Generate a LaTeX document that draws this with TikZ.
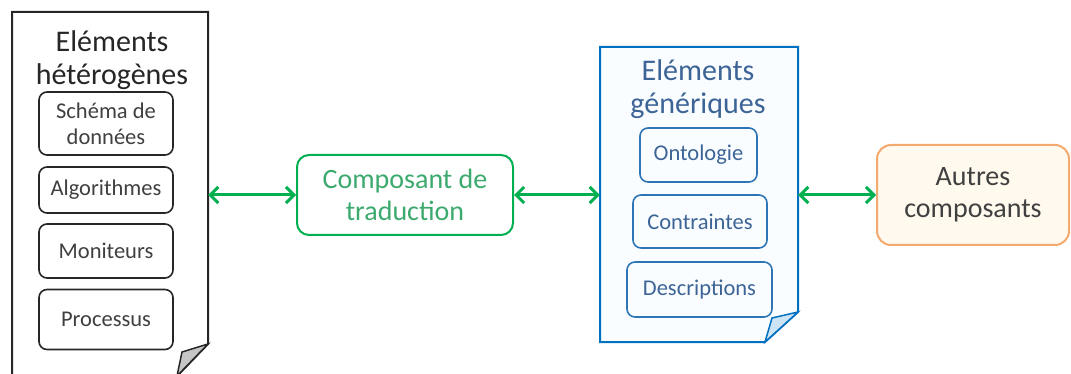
\documentclass[tikz,border=0pt]{standalone}
\usepackage{fontspec}
\setmainfont{Carlito}
\usetikzlibrary{arrows.meta}

\definecolor{docgray}{RGB}{38,38,38}
\definecolor{txtgray}{RGB}{64,64,64}
\definecolor{docblue}{RGB}{0,112,192}
\definecolor{boxblue}{RGB}{46,117,182}
\definecolor{txtblue}{RGB}{60,100,150}
\definecolor{docfill}{RGB}{250,253,255}
\definecolor{flapblue}{RGB}{205,228,246}
\definecolor{trgreen}{RGB}{0,176,80}
\definecolor{txtgreen}{RGB}{60,170,110}
\definecolor{orborder}{RGB}{244,170,110}
\definecolor{orfill}{RGB}{255,249,238}

\tikzset{
  item/.style={draw, rounded corners=8pt, line width=1.6pt, align=center,
    font=\fontsize{22.5}{26}\selectfont, inner sep=0pt},
  bigtext/.style={align=center, font=\fontsize{30}{33}\selectfont},
  link/.style={{Straight Barb[length=8pt,width=16pt]}-{Straight Barb[length=8pt,width=16pt]},
    trgreen, line width=3pt}
}

\begin{document}
\begin{tikzpicture}[x=1pt, y=-1pt]
  \useasboundingbox (0,0) rectangle (1071,374);
  % heterogeneous elements
  \draw[docgray, line width=2pt, fill=white] (12,12) -- (208,12) -- (208,344)
    -- (177,376) -- (12,376) -- cycle;
  \draw[docgray, line width=1.5pt, fill=gray!45] (208,344) -- (182,352) -- (177,376) -- cycle;
  \node[minimum width=196pt, minimum height=362pt, inner sep=0pt] (het) at (110,193) {};
  \node[bigtext, text=black!85] (hettitle) at (112,60) {Eléments\\hétérogènes};
  \node[item, docgray, text=txtgray, minimum width=134pt, minimum height=63pt] (schema) at (106,123.5) {Schéma de\\données};
  \node[item, docgray, text=txtgray, minimum width=134pt, minimum height=46pt] (algo) at (106,190) {Algorithmes};
  \node[item, docgray, text=txtgray, minimum width=134pt, minimum height=54pt] (moni) at (106,251) {Moniteurs};
  \node[item, docgray, text=txtgray, minimum width=134pt, minimum height=60pt] (proc) at (106,319.5) {Processus};
  % translation component
  \node[draw=trgreen, line width=2pt, rounded corners=12pt, text=txtgreen, bigtext,
    font=\fontsize{28}{32}\selectfont, minimum width=216pt, minimum height=80pt] (trad) at (405,195) {Composant de\\traduction};
  % generic elements
  \draw[docblue, line width=2pt, fill=docfill] (600,47) -- (798,47) -- (798,312)
    -- (765,342) -- (600,342) -- cycle;
  \draw[docblue, line width=1.5pt, fill=flapblue] (798,312) -- (772,318) -- (765,342) -- cycle;
  \node[minimum width=198pt, minimum height=295pt, inner sep=0pt] (gen) at (699,194.5) {};
  \node[bigtext, text=txtblue] (gentitle) at (698,89) {Eléments\\génériques};
  \node[item, boxblue, text=txtblue, minimum width=117pt, minimum height=54pt] (onto) at (698.5,155) {Ontologie};
  \node[item, boxblue, text=txtblue, minimum width=134pt, minimum height=53pt] (contr) at (700,221.5) {Contraintes};
  \node[item, boxblue, text=txtblue, minimum width=145pt, minimum height=55pt] (desc) at (699.5,289.5) {Descriptions};
  % other components
  \node[draw=orborder, fill=orfill, line width=2pt, rounded corners=14pt, text=txtgray, bigtext,
    font=\fontsize{28}{32}\selectfont, minimum width=192pt, minimum height=100pt] (autres) at (973,195) {Autres\\composants};
  % links
  \draw[link] (het.east |- trad.west) -- (trad.west);
  \draw[link] (trad.east) -- (gen.west |- trad.east);
  \draw[link] (gen.east |- autres.west) -- (autres.west);
\end{tikzpicture}
\end{document}
